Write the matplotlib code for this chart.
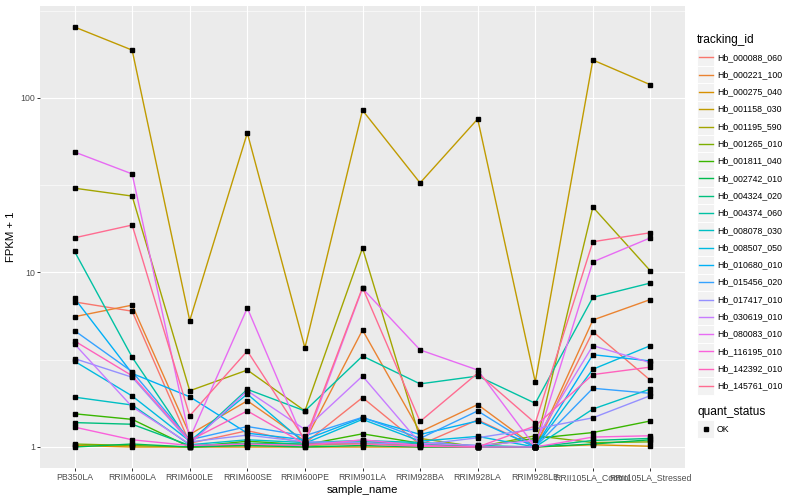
import numpy as np
import matplotlib
matplotlib.use('Agg')
import matplotlib.pyplot as plt
from matplotlib.patches import Rectangle
from matplotlib.ticker import FixedLocator

plt.rcParams['font.family'] = ['Liberation Sans', 'DejaVu Sans']

samples = ['PB350LA', 'RRIM600LA', 'RRIM600LE', 'RRIM600SE', 'RRIM600PE', 'RRIM901LA',
           'RRIM928BA', 'RRIM928LA', 'RRIM928LE', 'RRII105LA_Control', 'RRII105LA_Stressed']

# FPKM + 1 per gene, one value per sample
hb_000088_060 = [6.78, 6.0, 1.05, 1.24, 1.05, 1.92, 1.03, 1.43, 1.0, 4.58, 2.41]
hb_000221_100 = [5.58, 6.5, 1.18, 1.84, 1.08, 4.68, 1.22, 1.75, 1.0, 5.34, 7.0]
hb_000275_040 = [1.02, 1.0, 1.0, 1.0, 1.0, 1.0, 1.0, 1.0, 1.0, 1.03, 1.01]
hb_001158_030 = [255, 188, 5.3, 63, 3.7, 85, 32.6, 75.8, 2.36, 165, 119]
hb_001195_590 = [30.4, 27.4, 2.10, 2.76, 1.61, 13.8, 1.12, 1.0, 1.0, 23.7, 10.2]
hb_001265_010 = [1.04, 1.02, 1.0, 1.03, 1.02, 1.05, 1.02, 1.0, 1.16, 1.06, 1.07]
hb_001811_040 = [1.55, 1.44, 1.0, 1.08, 1.03, 1.19, 1.05, 1.0, 1.12, 1.21, 1.41]
hb_002742_010 = [1.0, 1.04, 1.0, 1.02, 1.0, 1.02, 1.0, 1.0, 1.0, 1.04, 1.1]
hb_004324_020 = [1.38, 1.35, 1.02, 1.05, 1.04, 1.07, 1.04, 1.0, 1.0, 1.09, 1.12]
hb_004374_060 = [13.2, 3.27, 1.06, 2.14, 1.61, 3.32, 2.30, 2.55, 1.78, 7.2, 8.7]
hb_008078_030 = [1.93, 1.74, 1.03, 1.10, 1.06, 1.09, 1.06, 1.02, 1.0, 1.65, 2.15]
hb_008507_050 = [3.10, 1.96, 1.08, 2.01, 1.05, 1.44, 1.08, 1.15, 1.0, 2.79, 3.81]
hb_010680_010 = [7.1, 2.64, 1.94, 1.20, 1.10, 1.47, 1.18, 1.41, 1.0, 3.38, 3.11]
hb_015456_020 = [4.64, 2.70, 1.10, 1.31, 1.16, 1.48, 1.12, 1.61, 1.0, 2.17, 2.03]
hb_017417_010 = [3.21, 2.51, 1.07, 1.17, 1.07, 1.06, 1.03, 1.13, 1.27, 1.47, 1.97]
hb_030619_010 = [3.89, 1.70, 1.04, 2.10, 1.26, 2.55, 1.05, 1.02, 1.09, 3.81, 3.04]
hb_080083_010 = [49, 36.7, 1.12, 6.26, 1.05, 8.1, 3.6, 2.76, 1.0, 11.5, 15.8]
hb_116195_010 = [1.30, 1.10, 1.02, 1.04, 1.02, 1.10, 1.02, 1.0, 1.0, 1.14, 1.16]
hb_142392_010 = [4.05, 2.56, 1.09, 1.61, 1.04, 1.04, 1.01, 1.0, 1.32, 2.60, 2.87]
hb_145761_010 = [15.8, 18.7, 1.51, 3.55, 1.10, 8.2, 1.40, 2.65, 1.37, 15.0, 16.9]

tracking_ids = ['Hb_000088_060', 'Hb_000221_100', 'Hb_000275_040', 'Hb_001158_030',
                'Hb_001195_590', 'Hb_001265_010', 'Hb_001811_040', 'Hb_002742_010',
                'Hb_004324_020', 'Hb_004374_060', 'Hb_008078_030', 'Hb_008507_050',
                'Hb_010680_010', 'Hb_015456_020', 'Hb_017417_010', 'Hb_030619_010',
                'Hb_080083_010', 'Hb_116195_010', 'Hb_142392_010', 'Hb_145761_010']
series = [hb_000088_060, hb_000221_100, hb_000275_040, hb_001158_030, hb_001195_590,
          hb_001265_010, hb_001811_040, hb_002742_010, hb_004324_020, hb_004374_060,
          hb_008078_030, hb_008507_050, hb_010680_010, hb_015456_020, hb_017417_010,
          hb_030619_010, hb_080083_010, hb_116195_010, hb_142392_010, hb_145761_010]

# ggplot2 default hue palette for 20 levels
colors = ['#F8766D', '#EA8331', '#D89000', '#C09B00', '#A3A500', '#7CAE00', '#39B600',
          '#00BB4E', '#00BF7D', '#00C1A3', '#00BFC4', '#00BAE0', '#00B0F6', '#35A2FF',
          '#9590FF', '#C77CFF', '#E76BF3', '#FA62DB', '#FF62BC', '#FF6C91']

W, H = 800, 500
fig = plt.figure(figsize=(8, 5), dpi=100)
ax = fig.add_axes([40 / W, 1 - 468 / H, 645 / W, 462 / H])
ax.set_facecolor('#EBEBEB')
for s in ax.spines.values():
    s.set_visible(False)

x = np.arange(len(samples))
for vals, c in zip(series, colors):
    ax.plot(x, vals, color=c, lw=1.0, zorder=3)
for vals in series:
    ax.plot(x, vals, ls='none', marker='s', ms=3.0, color='black', zorder=4)

ax.set_yscale('log')
allv = np.log10(np.concatenate([np.array(v, float) for v in series]))
lo, hi = allv.min(), allv.max()
pad = 0.05 * (hi - lo)
ax.set_ylim(10 ** (lo - pad), 10 ** (hi + pad))
ax.set_xlim(-0.6, len(samples) - 0.4)

ax.yaxis.set_major_locator(FixedLocator([1, 10, 100]))
ax.yaxis.set_minor_locator(FixedLocator([10 ** 0.5, 10 ** 1.5, 10 ** 2.5]))
ax.set_yticklabels(['1', '10', '100'])
ax.set_xticks(x)
ax.set_xticklabels(samples)
ax.grid(which='major', color='white', lw=0.8, zorder=1)
ax.grid(which='minor', axis='y', color='white', lw=0.4, zorder=1)
ax.tick_params(which='major', length=2, width=0.7, color='#333333',
               labelcolor='#4D4D4D', labelsize=6.3, pad=1.5)
ax.tick_params(which='minor', length=0)
ax.set_xlabel('sample_name', fontsize=8.2, labelpad=2)
ax.set_ylabel('FPKM + 1', fontsize=8.2, labelpad=3)

# legend drawn in pixel space
lg = fig.add_axes([0, 0, 1, 1], facecolor='none')
lg.set_xlim(0, W)
lg.set_ylim(H, 0)
lg.axis('off')
lg.text(697, 40.5, 'tracking_id', fontsize=8.6, va='center', ha='left')
key = 17.3
y0 = 57.3
for i, (tid, c) in enumerate(zip(tracking_ids, colors)):
    yc = y0 + i * key
    lg.add_patch(Rectangle((697, yc - key / 2), key, key, facecolor='#F2F2F2',
                           edgecolor='white', lw=0.7))
    lg.plot([698.5, 712.5], [yc, yc], color=c, lw=1.0)
    lg.text(717, yc, tid, fontsize=6.3, va='center', ha='left')

lg.text(697, 412, 'quant_status', fontsize=8.6, va='center', ha='left')
lg.add_patch(Rectangle((697, 429 - key / 2), key, key, facecolor='#F2F2F2',
                       edgecolor='white', lw=0.7))
lg.plot([705.6], [429], marker='s', ms=3.0, color='black')
lg.text(717, 429, 'OK', fontsize=6.3, va='center', ha='left')

fig.savefig('out.png', dpi=100)
